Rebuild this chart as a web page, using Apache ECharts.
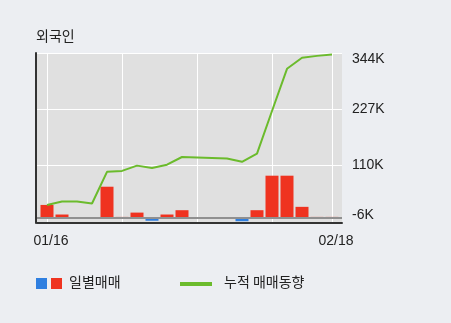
<!DOCTYPE html>
<html><head><meta charset="utf-8">
<script src="https://cdn.jsdelivr.net/npm/echarts@6/dist/echarts.min.js"></script>
<style>html,body{margin:0;padding:0;background:#eceef2;}#c{width:451px;height:323px;}</style>
</head><body><div id="c"></div>
<script>
const dates = ['01/16','01/17','01/20','01/21','01/22','01/23','01/24','01/31','02/03','02/04','02/05','02/06','02/07','02/10','02/11','02/12','02/13','02/14','02/17','02/18'];
const daily = [27, 7, 0, 0, 65, 2, 11, -6, 7, 16, 0, 0, 0, -7, 16, 88, 88, 23, 2, 2];
const cumulative = [27, 34, 34, 30, 96, 98, 109, 104, 111, 127, 126, 125, 124, 117, 134, 223, 311, 334, 338, 341];
const yTickValues = [-6, 110, 227, 344];
const yTickLabels = ['-6K', '110K', '227K', '344K'];
const xLabelIdx = [0, 19];
const xGridIdx = [0, 5, 10, 15, 19];

const RED = '#ef3320', BLUE = '#2f7fe0', GREEN = '#6bbb2c';
const font = "'Liberation Sans', Arial, sans-serif";
const kfont = "'Noto Sans CJK KR', sans-serif";

const chart = echarts.init(document.getElementById('c'), null, {renderer: 'canvas'});
chart.setOption({
  backgroundColor: '#eceef2',
  animation: false,
  title: {text: '외국인', left: 36, top: 29, padding: 0,
    textStyle: {fontSize: 14, fontWeight: 'normal', color: '#222', fontFamily: kfont}},
  grid: {left: 37, top: 53, width: 305, height: 170, show: true, backgroundColor: '#e0e0e0', borderWidth: 0},
  xAxis: {
    type: 'value', min: -0.667, max: 19.667,
    axisLine: {show: true, onZero: false, lineStyle: {color: '#333', width: 2}},
    axisTick: {show: false, customValues: xGridIdx},
    splitLine: {show: true, lineStyle: {color: '#ffffff', width: 1}},
    axisLabel: {customValues: xLabelIdx, formatter: v => dates[Math.round(v)] || '',
      color: '#222', fontSize: 14, fontFamily: font, margin: 11, padding: [0,0,0,8]}
  },
  yAxis: [{
    type: 'value', position: 'right', min: -10.7, max: 344,
    axisLine: {show: false},
    axisTick: {show: false, customValues: [110, 227, 344]},
    splitLine: {show: true, lineStyle: {color: '#ffffff', width: 1}},
    axisLabel: {customValues: yTickValues, margin: 10, color: '#222', fontSize: 14, fontFamily: font,
      formatter: v => {
        const i = yTickValues.indexOf(Math.round(v));
        const s = i >= 0 ? yTickLabels[i] : '';
        if (i === yTickValues.length - 1) return '{t|' + s + '}';
        if (i === 0) return '{b|' + s + '}';
        return s;
      },
      rich: {t: {padding: [12,0,0,0], fontSize: 14, fontFamily: font, color: '#222'},
             b: {padding: [0,0,12,0], fontSize: 14, fontFamily: font, color: '#222'}}
    }
  }, {
    type: 'value', position: 'left', min: -10.7, max: 344, offset: 1.5,
    axisLine: {show: true, lineStyle: {color: '#333', width: 2}},
    axisTick: {show: false}, axisLabel: {show: false}, splitLine: {show: false}
  }],
  series: [{
    type: 'bar', yAxisIndex: 0, barWidth: 13, z: 2,
    data: daily.map((v, i) => [i, v]),
    itemStyle: {color: p => p.value[1] < 0 ? BLUE : RED},
    markLine: {silent: true, symbol: 'none', label: {show: false},
      lineStyle: {color: '#909090', width: 2, type: 'solid'}, data: [{yAxis: 0}]}
  }, {
    type: 'line', yAxisIndex: 0, z: 3, showSymbol: false, symbol: 'none',
    data: cumulative.map((v, i) => [i, v]),
    lineStyle: {color: GREEN, width: 2}
  }],
  graphic: [
    {type: 'rect', left: 36, top: 278, shape: {width: 11, height: 11}, style: {fill: BLUE}},
    {type: 'rect', left: 51, top: 278, shape: {width: 11, height: 11}, style: {fill: RED}},
    {type: 'text', left: 69, top: 275, style: {text: '일별매매', fontSize: 14, fontFamily: kfont, fill: '#222'}},
    {type: 'rect', left: 180, top: 282, shape: {width: 32, height: 4}, style: {fill: GREEN}},
    {type: 'text', left: 224, top: 275, style: {text: '누적 매매동향', fontSize: 14, fontFamily: kfont, fill: '#222'}}
  ]
});
</script></body></html>
